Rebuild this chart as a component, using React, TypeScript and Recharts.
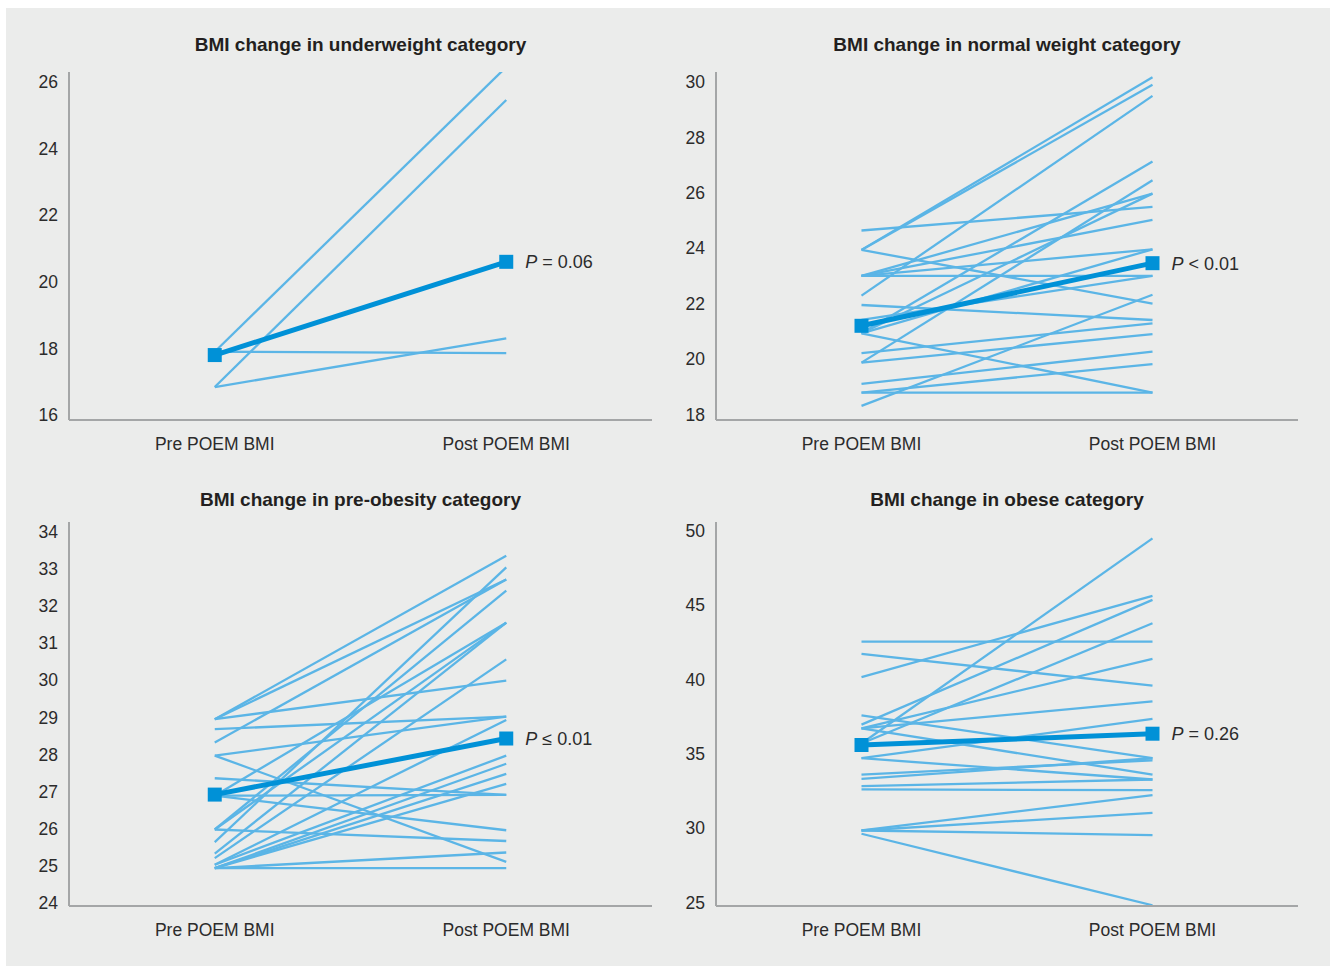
import { LineChart, Line, XAxis, YAxis } from "recharts";

const FONT = "'Liberation Sans', Arial, sans-serif";
const LIGHT = "#5bb5e6";
const DARK = "#0091d7";
const AXIS = "#a4a6a7";
const TEXT = "#2b2b2b";

const timepoints = ["Pre POEM BMI", "Post POEM BMI"];

// underweight
const underweightPre = [17.9, 16.84, 17.9, 16.84];
const underweightPost = [26.45, 25.46, 17.86, 18.3];
const underweightMean = [17.8, 20.6];
const underweightTicks = [16, 18, 20, 22, 24, 26];

// normal weight
const normalPre = [23.94, 23.94, 22.29, 20.93, 19.87, 23.0, 24.64, 20.93, 23.0, 20.93, 23.0, 23.0, 23.94, 18.31, 21.95, 20.93, 20.21, 19.87, 19.1, 18.79, 18.79, 21.41];
const normalPost = [30.17, 29.9, 29.5, 27.13, 26.45, 25.97, 25.49, 25.97, 25.02, 23.96, 23.96, 23.0, 22.0, 22.32, 21.41, 18.79, 21.29, 20.9, 20.27, 19.82, 18.79, 23.0];
const normalMean = [21.2, 23.46];
const normalTicks = [18, 20, 22, 24, 26, 28, 30];

// pre-obesity
const preObesePre = [28.95, 28.95, 28.32, 28.68, 28.95, 27.97, 27.97, 27.36, 26.89, 26.89, 25.98, 25.98, 25.98, 25.64, 25.33, 25.21, 25.03, 25.03, 24.94, 24.94, 24.94, 24.94, 24.94, 26.89];
const preObesePost = [33.35, 32.71, 32.71, 29.02, 29.99, 29.02, 25.11, 26.91, 25.96, 26.91, 31.55, 25.67, 32.41, 33.04, 31.55, 30.56, 28.93, 27.97, 27.75, 27.48, 27.21, 25.36, 24.94, 31.55];
const preObeseMean = [26.92, 28.43];
const preObeseTicks = [24, 25, 26, 27, 28, 29, 30, 31, 32, 33, 34];

// obese
const obesePre = [42.56, 41.73, 40.17, 36.97, 35.7, 35.7, 36.72, 36.72, 37.6, 36.72, 34.71, 34.71, 33.61, 33.32, 32.83, 32.61, 29.85, 29.85, 29.85, 29.63];
const obesePost = [42.56, 39.59, 45.63, 45.36, 49.5, 43.79, 41.4, 38.53, 34.71, 33.61, 37.35, 33.28, 34.57, 34.71, 33.28, 32.56, 32.23, 31.04, 29.54, 24.82];
const obeseMean = [35.6, 36.36];
const obeseTicks = [25, 30, 35, 40, 45, 50];

const pair = (a: number, b: number) => [
  { x: 0, v: a },
  { x: 1, v: b },
];

const Square = (props: any) => {
  const { cx, cy } = props;
  if (cx == null || cy == null) return null;
  return <rect x={cx - 7} y={cy - 7} width={14} height={14} fill={DARK} />;
};

interface PanelProps {
  title: string;
  pre: number[];
  post: number[];
  mean: number[];
  sign: string;
  pValue: string;
  left: number;
  top: number;
  width: number;
  height: number;
  margin: { top: number; right: number; bottom: number; left: number };
  yWidth: number;
  domain: [number, number];
  ticks: number[];
  titleTop: number;
}

function Panel(p: PanelProps) {
  const plotLeft = p.left + p.margin.left + p.yWidth;
  const plotRight = p.left + p.width - p.margin.right;
  const pLabel = (props: any) => {
    if (props.index !== 1) return null;
    return (
      <text x={props.x + 19} y={props.y} dy="0.36em" fill={TEXT} fontSize={18} fontFamily={FONT}>
        <tspan fontStyle="italic">P</tspan>
        {` ${p.sign} ${p.pValue}`}
      </text>
    );
  };
  return (
    <>
      <div
        style={{
          position: "absolute",
          left: plotLeft,
          width: plotRight - plotLeft,
          top: p.titleTop,
          lineHeight: "20px",
          textAlign: "center",
          fontFamily: FONT,
          fontWeight: "bold",
          fontSize: 19,
          color: "#231f20",
        }}
      >
        {p.title}
      </div>
      <div style={{ position: "absolute", left: p.left, top: p.top }}>
        <LineChart width={p.width} height={p.height} margin={p.margin}>
          <XAxis
            type="number"
            dataKey="x"
            domain={[-0.5, 1.5]}
            ticks={[0, 1]}
            tickFormatter={(i: number) => timepoints[i]}
            allowDataOverflow
            axisLine={{ stroke: AXIS, strokeWidth: 2 }}
            tickLine={false}
            tickSize={0}
            tickMargin={18}
            height={40}
            tick={{ fill: TEXT, fontSize: 17.5, fontFamily: FONT }}
          />
          <YAxis
            type="number"
            domain={p.domain}
            ticks={p.ticks}
            allowDataOverflow
            interval={0}
            axisLine={{ stroke: AXIS, strokeWidth: 2 }}
            tickLine={false}
            tickSize={0}
            tickMargin={11}
            width={p.yWidth}
            tick={{ fill: TEXT, fontSize: 17.5, fontFamily: FONT }}
          />
          {p.pre.map((v, i) => (
            <Line
              key={`l${i}`}
              data={pair(v, p.post[i])}
              dataKey="v"
              stroke={LIGHT}
              strokeWidth={2.3}
              dot={false}
              activeDot={false}
              isAnimationActive={false}
            />
          ))}
          <Line
            key="mean"
            data={pair(p.mean[0], p.mean[1])}
            dataKey="v"
            stroke={DARK}
            strokeWidth={5}
            dot={<Square />}
            activeDot={false}
            label={pLabel}
            isAnimationActive={false}
          />
        </LineChart>
      </div>
    </>
  );
}

export default function App() {
  return (
    <div style={{ position: "absolute", left: 0, top: 0, width: 1335, height: 969, background: "#ffffff" }}>
      <div style={{ position: "absolute", left: 6, top: 8, width: 1324, height: 958, background: "#ebeceb" }} />
      <Panel
        title="BMI change in underweight category"
        pre={underweightPre}
        post={underweightPost}
        mean={underweightMean}
        sign="="
        pValue="0.06"
        left={0}
        top={0}
        width={660}
        height={470}
        margin={{ top: 72, right: 8, bottom: 10, left: 0 }}
        yWidth={69}
        domain={[15.85, 26.3]}
        ticks={underweightTicks}
        titleTop={35}
      />
      <Panel
        title="BMI change in normal weight category"
        pre={normalPre}
        post={normalPost}
        mean={normalMean}
        sign="<"
        pValue="0.01"
        left={660}
        top={0}
        width={675}
        height={470}
        margin={{ top: 72, right: 37, bottom: 10, left: 0 }}
        yWidth={56}
        domain={[17.8, 30.36]}
        ticks={normalTicks}
        titleTop={35}
      />
      <Panel
        title="BMI change in pre-obesity category"
        pre={preObesePre}
        post={preObesePost}
        mean={preObeseMean}
        sign="≤"
        pValue="0.01"
        left={0}
        top={470}
        width={660}
        height={499}
        margin={{ top: 52, right: 8, bottom: 23, left: 0 }}
        yWidth={69}
        domain={[23.92, 34.26]}
        ticks={preObeseTicks}
        titleTop={490}
      />
      <Panel
        title="BMI change in obese category"
        pre={obesePre}
        post={obesePost}
        mean={obeseMean}
        sign="="
        pValue="0.26"
        left={660}
        top={470}
        width={675}
        height={499}
        margin={{ top: 52, right: 37, bottom: 23, left: 0 }}
        yWidth={56}
        domain={[24.77, 50.6]}
        ticks={obeseTicks}
        titleTop={490}
      />
    </div>
  );
}
